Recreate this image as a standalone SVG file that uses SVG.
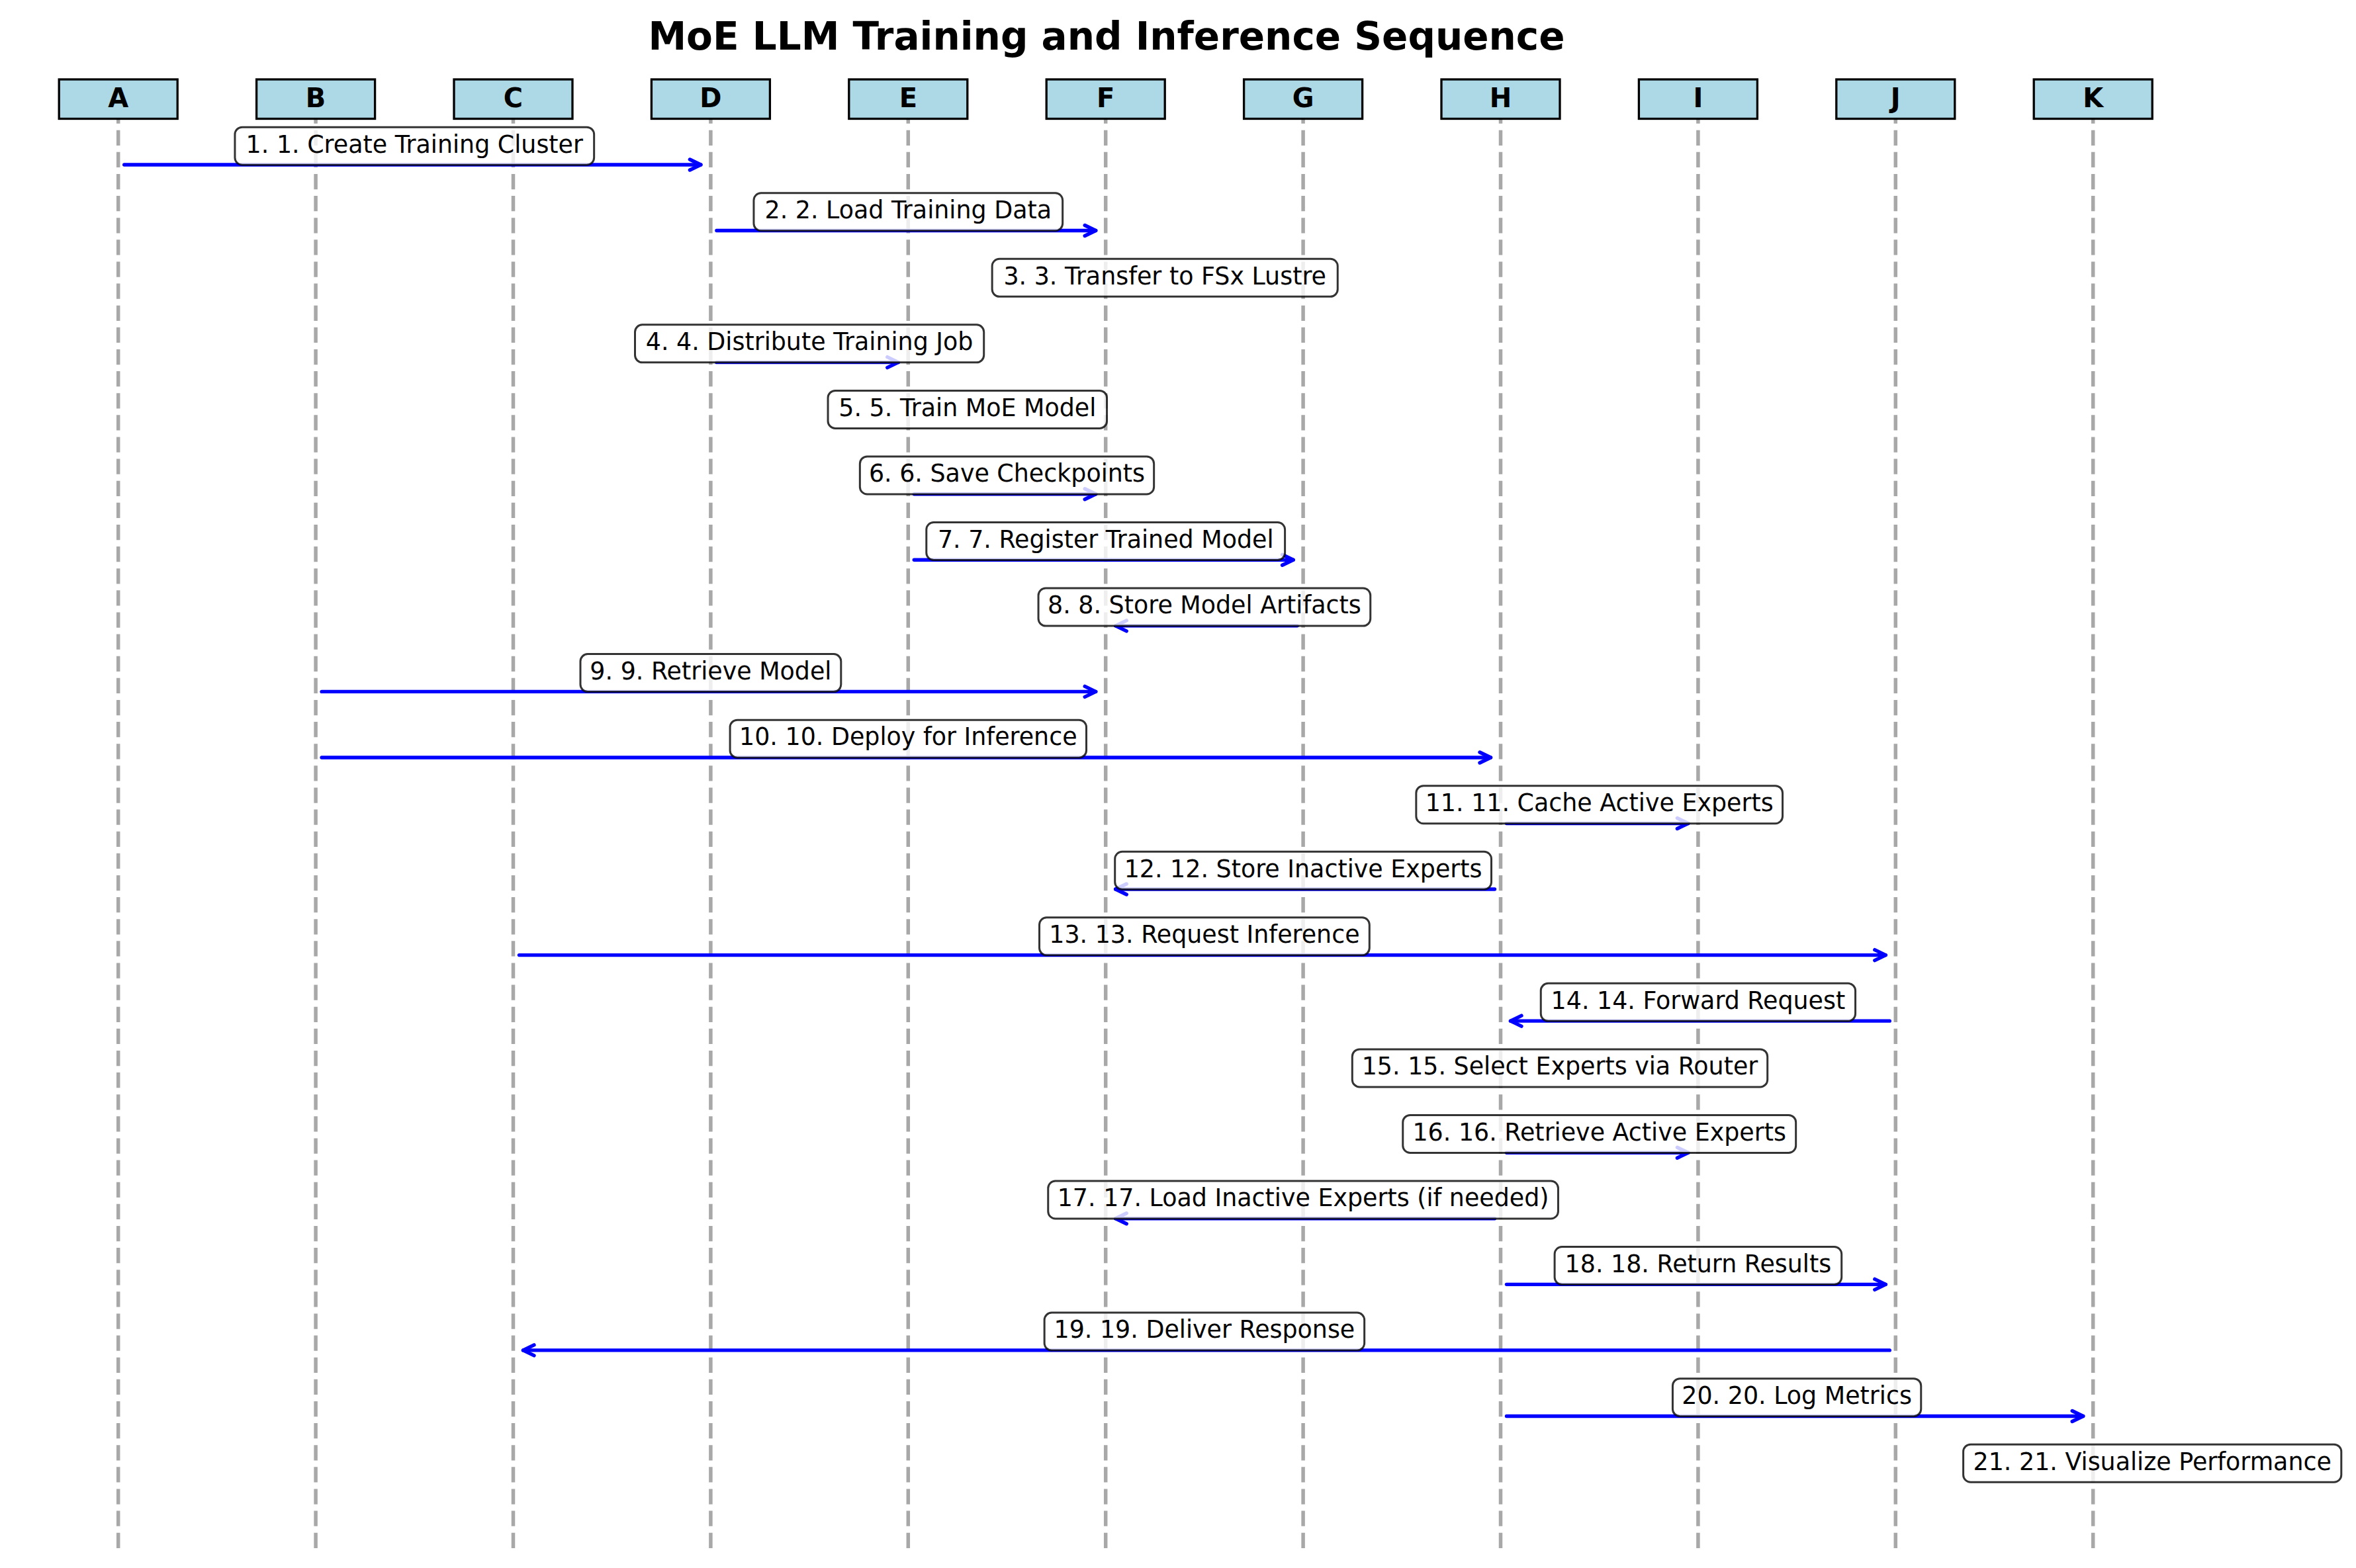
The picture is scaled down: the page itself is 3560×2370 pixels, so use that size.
<svg xmlns="http://www.w3.org/2000/svg" width="3560" height="2370" viewBox="0 0 3560 2370">
<style>
text{font-family:"DejaVu Sans","Liberation Sans",sans-serif;fill:#000}
.title{font-size:58px;font-weight:bold;text-anchor:middle}
.pbox{fill:#add8e6;stroke:#000;stroke-width:3.3}
.plab{font-size:40px;font-weight:bold;text-anchor:middle}
.life{stroke:#a8a8a8;stroke-width:5.5;stroke-dasharray:23.2 9.925;fill:none}
.msg{stroke:#0000ff;stroke-width:5.4;stroke-linecap:round;fill:none;marker-end:url(#ah)}
.lbox{fill:#fff;fill-opacity:0.8;stroke:#000;stroke-opacity:0.8;stroke-width:3}
.ltxt{font-size:36.4px;text-anchor:middle}
</style>
<defs>
<marker id="ah" markerUnits="userSpaceOnUse" orient="auto" refX="0" refY="0" markerWidth="40" markerHeight="40" viewBox="-20 -20 40 40" overflow="visible">
<path d="M-16.5,-8 L0,0 L-16.5,8" fill="none" stroke="#0000ff" stroke-width="5.4" stroke-linecap="round" stroke-linejoin="round"/>
</marker>
</defs>
<rect width="3560" height="2370" fill="#fff"/>
<text class="title" x="1672" y="75">MoE LLM Training and Inference Sequence</text>
<g id="lifelines">
<line class="life" x1="178.7" y1="163.6" x2="178.7" y2="2340"/>
<line class="life" x1="477.1" y1="163.6" x2="477.1" y2="2340"/>
<line class="life" x1="775.5" y1="163.6" x2="775.5" y2="2340"/>
<line class="life" x1="1073.9" y1="163.6" x2="1073.9" y2="2340"/>
<line class="life" x1="1372.3" y1="163.6" x2="1372.3" y2="2340"/>
<line class="life" x1="1670.7" y1="163.6" x2="1670.7" y2="2340"/>
<line class="life" x1="1969.1" y1="163.6" x2="1969.1" y2="2340"/>
<line class="life" x1="2267.5" y1="163.6" x2="2267.5" y2="2340"/>
<line class="life" x1="2565.9" y1="163.6" x2="2565.9" y2="2340"/>
<line class="life" x1="2864.3" y1="163.6" x2="2864.3" y2="2340"/>
<line class="life" x1="3162.7" y1="163.6" x2="3162.7" y2="2340"/>
</g>
<g id="node-A"><rect class="pbox" x="89.2" y="120" width="179" height="59.5"/><text class="plab" x="178.7" y="161.5">A</text></g>
<g id="node-B"><rect class="pbox" x="387.6" y="120" width="179" height="59.5"/><text class="plab" x="477.1" y="161.5">B</text></g>
<g id="node-C"><rect class="pbox" x="686" y="120" width="179" height="59.5"/><text class="plab" x="775.5" y="161.5">C</text></g>
<g id="node-D"><rect class="pbox" x="984.4" y="120" width="179" height="59.5"/><text class="plab" x="1073.9" y="161.5">D</text></g>
<g id="node-E"><rect class="pbox" x="1282.8" y="120" width="179" height="59.5"/><text class="plab" x="1372.3" y="161.5">E</text></g>
<g id="node-F"><rect class="pbox" x="1581.2" y="120" width="179" height="59.5"/><text class="plab" x="1670.7" y="161.5">F</text></g>
<g id="node-G"><rect class="pbox" x="1879.6" y="120" width="179" height="59.5"/><text class="plab" x="1969.1" y="161.5">G</text></g>
<g id="node-H"><rect class="pbox" x="2178" y="120" width="179" height="59.5"/><text class="plab" x="2267.5" y="161.5">H</text></g>
<g id="node-I"><rect class="pbox" x="2476.4" y="120" width="179" height="59.5"/><text class="plab" x="2565.9" y="161.5">I</text></g>
<g id="node-J"><rect class="pbox" x="2774.8" y="120" width="179" height="59.5"/><text class="plab" x="2864.3" y="161.5">J</text></g>
<g id="node-K"><rect class="pbox" x="3073.2" y="120" width="179" height="59.5"/><text class="plab" x="3162.7" y="161.5">K</text></g>
<g id="connectors">
<path class="msg" d="M187.7,249 H1058.9"/>
<path class="msg" d="M1082.9,348.55 H1655.7"/>
<path class="msg" d="M1082.9,547.65 H1357.3"/>
<path class="msg" d="M1381.3,746.75 H1655.7"/>
<path class="msg" d="M1381.3,846.3 H1954.1"/>
<path class="msg" d="M1960.1,945.85 H1685.7"/>
<path class="msg" d="M486.1,1045.4 H1655.7"/>
<path class="msg" d="M486.1,1144.95 H2252.5"/>
<path class="msg" d="M2276.5,1244.5 H2550.9"/>
<path class="msg" d="M2258.5,1344.05 H1685.7"/>
<path class="msg" d="M784.5,1443.6 H2849.3"/>
<path class="msg" d="M2855.3,1543.15 H2282.5"/>
<path class="msg" d="M2276.5,1742.25 H2550.9"/>
<path class="msg" d="M2258.5,1841.8 H1685.7"/>
<path class="msg" d="M2276.5,1941.35 H2849.3"/>
<path class="msg" d="M2855.3,2040.9 H790.5"/>
<path class="msg" d="M2276.5,2140.45 H3147.7"/>
</g>
<g id="labels">
<g id="label-1"><rect class="lbox" x="354.95" y="192.2" width="542.7" height="57" rx="11"/><text class="ltxt" x="626.3" y="230.5">1. 1. Create Training Cluster</text></g>
<g id="label-2"><rect class="lbox" x="1138.95" y="291.75" width="466.7" height="57" rx="11"/><text class="ltxt" x="1372.3" y="330.05">2. 2. Load Training Data</text></g>
<g id="label-3"><rect class="lbox" x="1499.15" y="391.3" width="522.1" height="57" rx="11"/><text class="ltxt" x="1760.2" y="429.6">3. 3. Transfer to FSx Lustre</text></g>
<g id="label-4"><rect class="lbox" x="959.5" y="490.85" width="527.2" height="57" rx="11"/><text class="ltxt" x="1223.1" y="529.15">4. 4. Distribute Training Job</text></g>
<g id="label-5"><rect class="lbox" x="1251.05" y="590.4" width="421.5" height="57" rx="11"/><text class="ltxt" x="1461.8" y="628.7">5. 5. Train MoE Model</text></g>
<g id="label-6"><rect class="lbox" x="1299.35" y="689.95" width="444.3" height="57" rx="11"/><text class="ltxt" x="1521.5" y="728.25">6. 6. Save Checkpoints</text></g>
<g id="label-7"><rect class="lbox" x="1399.8" y="789.5" width="541.8" height="57" rx="11"/><text class="ltxt" x="1670.7" y="827.8">7. 7. Register Trained Model</text></g>
<g id="label-8"><rect class="lbox" x="1569.05" y="889.05" width="501.7" height="57" rx="11"/><text class="ltxt" x="1819.9" y="927.35">8. 8. Store Model Artifacts</text></g>
<g id="label-9"><rect class="lbox" x="877" y="988.6" width="393.8" height="57" rx="11"/><text class="ltxt" x="1073.9" y="1026.9">9. 9. Retrieve Model</text></g>
<g id="label-10"><rect class="lbox" x="1103.1" y="1088.15" width="538.4" height="57" rx="11"/><text class="ltxt" x="1372.3" y="1126.45">10. 10. Deploy for Inference</text></g>
<g id="label-11"><rect class="lbox" x="2139.85" y="1187.7" width="553.7" height="57" rx="11"/><text class="ltxt" x="2416.7" y="1226">11. 11. Cache Active Experts</text></g>
<g id="label-12"><rect class="lbox" x="1684.7" y="1287.25" width="568.8" height="57" rx="11"/><text class="ltxt" x="1969.1" y="1325.55">12. 12. Store Inactive Experts</text></g>
<g id="label-13"><rect class="lbox" x="1570.5" y="1386.8" width="498.8" height="57" rx="11"/><text class="ltxt" x="1819.9" y="1425.1">13. 13. Request Inference</text></g>
<g id="label-14"><rect class="lbox" x="2328.25" y="1486.35" width="475.3" height="57" rx="11"/><text class="ltxt" x="2565.9" y="1524.65">14. 14. Forward Request</text></g>
<g id="label-15"><rect class="lbox" x="2043.3" y="1585.9" width="627.4" height="57" rx="11"/><text class="ltxt" x="2357" y="1624.2">15. 15. Select Experts via Router</text></g>
<g id="label-16"><rect class="lbox" x="2119.75" y="1685.45" width="593.9" height="57" rx="11"/><text class="ltxt" x="2416.7" y="1723.75">16. 16. Retrieve Active Experts</text></g>
<g id="label-17"><rect class="lbox" x="1583.75" y="1785" width="770.7" height="57" rx="11"/><text class="ltxt" x="1969.1" y="1823.3">17. 17. Load Inactive Experts (if needed)</text></g>
<g id="label-18"><rect class="lbox" x="2349.1" y="1884.55" width="433.6" height="57" rx="11"/><text class="ltxt" x="2565.9" y="1922.85">18. 18. Return Results</text></g>
<g id="label-19"><rect class="lbox" x="1578.15" y="1984.1" width="483.5" height="57" rx="11"/><text class="ltxt" x="1819.9" y="2022.4">19. 19. Deliver Response</text></g>
<g id="label-20"><rect class="lbox" x="2527.45" y="2083.65" width="375.3" height="57" rx="11"/><text class="ltxt" x="2715.1" y="2121.95">20. 20. Log Metrics</text></g>
<g id="label-21"><rect class="lbox" x="2966.6" y="2183.2" width="571.2" height="57" rx="11"/><text class="ltxt" x="3252.2" y="2221.5">21. 21. Visualize Performance</text></g>
</g>
</svg>
